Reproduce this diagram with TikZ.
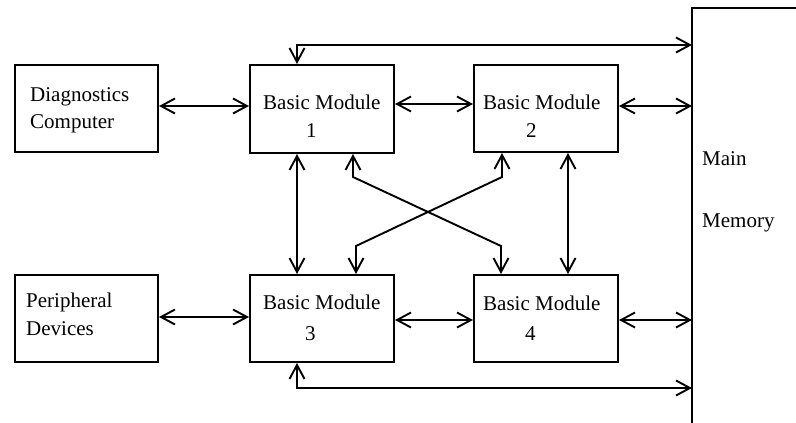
\documentclass[tikz,border=0pt]{standalone}
\usepackage{fontspec}
\setmainfont{Liberation Serif}
\usetikzlibrary{arrows.meta}
\begin{document}
\begin{tikzpicture}[x=1pt,y=-1pt,
  box/.style={draw,line width=2pt,rectangle,inner sep=0pt,anchor=north west},
  lbl/.style={anchor=base west,inner sep=0pt,font=\fontsize{21}{25}\selectfont},
  link/.style={line width=1.9pt,{Straight Barb[length=14pt,width=15pt]}-{Straight Barb[length=14pt,width=15pt]}}]
\useasboundingbox (0,0) rectangle (796,423);

% boxes
\node[box,minimum width=143pt,minimum height=87pt] (diag) at (14,64) {};
\node[box,minimum width=144pt,minimum height=88pt] (bm1) at (249,64) {};
\node[box,minimum width=144pt,minimum height=87pt] (bm2) at (473,64) {};
\node[box,minimum width=143pt,minimum height=87pt] (periph) at (14,274) {};
\node[box,minimum width=144pt,minimum height=87pt] (bm3) at (249,274) {};
\node[box,minimum width=144pt,minimum height=87pt] (bm4) at (473,274) {};

% labels
\node[lbl] (tdiag1) at (30,101) {Diagnostics};
\node[lbl] (tdiag2) at (30,128) {Computer};
\node[lbl] (tper1) at (26,307) {Peripheral};
\node[lbl] (tper2) at (26,335) {Devices};
\node[lbl] (tbm1) at (263,109) {Basic Module};
\node[lbl] (nbm1) at (306,137) {1};
\node[lbl] (tbm2) at (483,109) {Basic Module};
\node[lbl] (nbm2) at (526,137) {2};
\node[lbl] (tbm3) at (263,309) {Basic Module};
\node[lbl] (nbm3) at (305,340) {3};
\node[lbl] (tbm4) at (483,310) {Basic Module};
\node[lbl] (nbm4) at (525,340) {4};
\node[lbl] (tmain) at (702,165) {Main};
\node[lbl] (tmem) at (702,227) {Memory};

% main memory outline
\coordinate (memtop) at (692,8);
\draw[line width=2pt] (796,8) -- (memtop) -- (692,423);

% horizontal links
\draw[link] (diag.east |- 0,106) -- (bm1.west |- 0,106);
\draw[link] (bm1.east |- 0,104) -- (bm2.west |- 0,104);
\draw[link] (bm2.east |- 0,106) -- (memtop |- 0,106);
\draw[link] (periph.east |- 0,317) -- (bm3.west |- 0,317);
\draw[link] (bm3.east |- 0,320) -- (bm4.west |- 0,320);
\draw[link] (bm4.east |- 0,320) -- (memtop |- 0,320);

% vertical links
\draw[link] (bm1.south -| 297,0) -- (bm3.north -| 297,0);
\draw[link] (bm2.south -| 568,0) -- (bm4.north -| 568,0);

% crossing links
\draw[link] (bm1.south -| 353,0) -- (353,177) -- (501,246) -- (bm4.north -| 501,0);
\draw[link] (bm2.south -| 502,0) -- (502,177) -- (356,246) -- (bm3.north -| 356,0);

% memory buses
\coordinate (topbus) at (297,45);
\coordinate (botbus) at (297,388);
\draw[link] (bm1.north -| topbus) -- (topbus) -- (topbus -| memtop);
\draw[link] (bm3.south -| botbus) -- (botbus) -- (botbus -| memtop);
\end{tikzpicture}
\end{document}
